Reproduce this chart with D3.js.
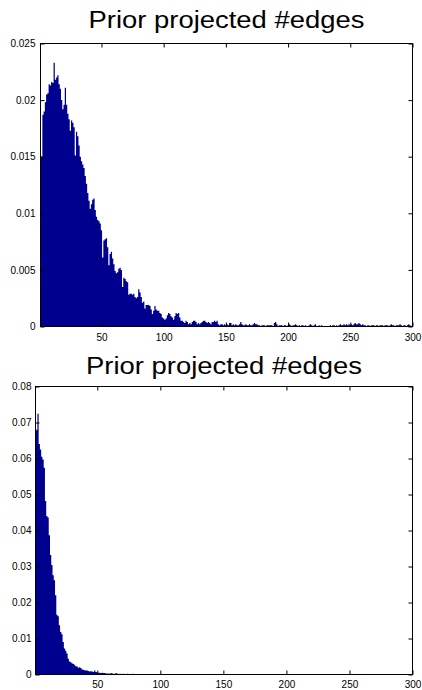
<!DOCTYPE html>
<html>
<head>
<meta charset="utf-8">
<script src="https://cdn.jsdelivr.net/npm/d3@7"></script>
<style>
  body { margin: 0; background: #fff; }
  svg { display: block; }
  text { font-family: "Liberation Sans", Arial, Helvetica, sans-serif; fill: #000; }
</style>
</head>
<body>
<svg id="fig" width="422" height="690"></svg>
<script>
// Histogram bin centres (one bin per edge count)
const binCenters = d3.range(1, 301);

// Relative frequency per bin, upper panel
const upperFreq = [
  0.0151, 0.0150, 0.0187, 0.0190, 0.0198, 0.0205, 0.0206, 0.0214, 0.0213, 0.0216,
  0.0215, 0.0233, 0.0218, 0.0220, 0.0222, 0.0214, 0.0210, 0.0200, 0.0192, 0.0196,
  0.0211, 0.0196, 0.0188, 0.0183, 0.0173, 0.0182, 0.0180, 0.0176, 0.0151, 0.0172,
  0.0168, 0.0160, 0.0150, 0.0146, 0.0143, 0.0140, 0.0133, 0.0126, 0.0118, 0.0111,
  0.0104, 0.0108, 0.0112, 0.0113, 0.0103, 0.0097, 0.0094, 0.0093, 0.0091, 0.0085,
  0.0061, 0.0076, 0.0077, 0.0078, 0.0070, 0.0054, 0.0064, 0.0066, 0.0060, 0.0055,
  0.0049, 0.0047, 0.0048, 0.0051, 0.0052, 0.0050, 0.0035, 0.0043, 0.0042, 0.0040,
  0.0039, 0.0028, 0.0029, 0.0029, 0.0028, 0.0029, 0.0026, 0.0025, 0.0026, 0.0033,
  0.0030, 0.0026, 0.0021, 0.0022, 0.0016, 0.0019, 0.0019, 0.0019, 0.0018, 0.0015,
  0.0011, 0.0014, 0.0018, 0.0015, 0.0014, 0.0014, 0.0012, 0.0011, 0.0008, 0.0007,
  0.0006, 0.0007, 0.0010, 0.0012, 0.0011, 0.0009, 0.0008, 0.0006, 0.0009, 0.0012,
  0.0011, 0.0012, 0.0008, 0.0005, 0.0005, 0.0004, 0.0003, 0.0005, 0.0004, 0.0002,
  0.0003, 0.0002, 0.0004, 0.0005, 0.0005, 0.0004, 0.0002, 0.0003, 0.0002, 0.0003,
  0.0004, 0.0005, 0.0005, 0.0004, 0.0003, 0.0004, 0.0003, 0.0002, 0.0004, 0.0004,
  0.0005, 0.0004, 0.0005, 0.0002, 0.0001, 0.0002, 0.0002, 0.0001, 0.0002, 0.0001,
  0.0002, 0.0001, 0.0003, 0.0003, 0.0001, 0.0002, 0.0001, 0.0002, 0.0001, 0.0001,
  0.0002, 0.0004, 0.0002, 0.0001, 0.0001, 0.0002, 0.0001, 0.0001, 0.0002, 0.0001,
  0.0001, 0.0002, 0.0003, 0.0002, 0.0002, 0.0001, 0.0001, 0,      0.0001, 0.0001,
  0.0001, 0,      0.0001, 0.0001, 0.0001, 0.0001, 0.0001, 0,      0.0003, 0.0004,
  0.0002, 0,      0.0001, 0.0001, 0.0001, 0,      0.0001, 0.0001, 0,      0.0001,
  0.0002, 0.0001, 0,      0.0001, 0.0001, 0.0002, 0.0001, 0,      0.0001, 0,
  0.0001, 0.0001, 0,      0.0001, 0,      0,      0.0001, 0.0002, 0.0001, 0,
  0.0001, 0.0002, 0,      0,      0.0001, 0,      0.0001, 0,      0,      0,
  0,      0,      0,      0.0001, 0,      0.0001, 0.0001, 0,      0.0001, 0,
  0.0001, 0.0002, 0.0001, 0.0001, 0.0002, 0.0001, 0.0002, 0.0001, 0.0002, 0.0001,
  0.0002, 0.0001, 0.0002, 0.0003, 0.0002, 0.0002, 0.0003, 0.0002, 0.0001, 0.0002,
  0.0001, 0.0001, 0,      0.0001, 0.0001, 0,      0.0001, 0.0001, 0.0001, 0,
  0.0001, 0.0001, 0,      0.0001, 0.0001, 0.0001, 0,      0.0001, 0.0001, 0.0001,
  0,      0.0001, 0.0002, 0.0001, 0.0001, 0,      0.0001, 0.0001, 0.0001, 0.0002,
  0.0001, 0,      0.0001, 0.0001, 0,      0.0001, 0.0002, 0.0001, 0,      0.0001
];

// Relative frequency per bin, lower panel
const lowerFreq = [
  0.0675, 0.0680, 0.0724, 0.0640, 0.0625, 0.0605, 0.0597, 0.0574, 0.0482, 0.0440,
  0.0436, 0.0387, 0.0332, 0.0304, 0.0276, 0.0262, 0.0220, 0.0166, 0.0162, 0.0137,
  0.0118, 0.0112, 0.0090, 0.0072, 0.0066, 0.0058, 0.0044, 0.0036, 0.0034, 0.0031,
  0.0029, 0.0027, 0.0023, 0.0022, 0.0019, 0.0020, 0.0018, 0.0014, 0.0013, 0.0012,
  0.0011, 0.0011, 0.0010, 0.0008, 0.0009, 0.0008, 0.0007, 0.0011, 0.0007, 0.0006,
  0.0005, 0.0005, 0.0004, 0.0005, 0.0004, 0.0004, 0.0003, 0.0003, 0.0003, 0.0002,
  0.0004, 0.0003, 0.0002, 0.0002, 0.0004, 0.0002, 0.0002, 0.0001, 0.0002, 0.0001,
  0.0002, 0.0001, 0.0001, 0.0002, 0.0001, 0.0001, 0.0001, 0.0002, 0.0001, 0,
  0.0001, 0.0001, 0.0001, 0,      0.0001, 0.0001, 0,      0.0001, 0.0001, 0,
  0.0001, 0,      0.0001, 0,      0,      0.0001, 0,      0,      0.0001, 0,
  0, 0, 0, 0, 0.0001, 0, 0, 0, 0, 0,   0, 0, 0, 0, 0, 0, 0, 0, 0, 0,
  0, 0, 0, 0, 0, 0, 0, 0, 0, 0,        0, 0, 0.0001, 0, 0, 0, 0, 0, 0, 0,
  0, 0, 0, 0, 0, 0, 0, 0, 0, 0,        0, 0, 0, 0, 0, 0, 0, 0, 0, 0,
  0, 0, 0, 0, 0, 0, 0, 0, 0, 0,        0, 0, 0, 0, 0, 0, 0, 0, 0, 0,
  0, 0, 0, 0, 0, 0, 0, 0, 0, 0,        0, 0, 0, 0, 0, 0, 0, 0, 0, 0,
  0, 0, 0, 0, 0, 0, 0, 0, 0, 0,        0, 0, 0, 0, 0, 0, 0, 0, 0, 0,
  0, 0, 0, 0, 0, 0, 0, 0, 0, 0,        0, 0, 0, 0, 0, 0, 0, 0, 0, 0,
  0, 0, 0, 0, 0, 0, 0, 0, 0, 0,        0, 0, 0, 0, 0, 0, 0, 0, 0, 0,
  0, 0, 0, 0, 0, 0, 0, 0, 0, 0,        0, 0, 0, 0, 0, 0, 0, 0, 0, 0,
  0, 0, 0, 0, 0, 0, 0, 0, 0, 0,        0, 0, 0, 0, 0, 0, 0, 0, 0, 0
];

// Axis ticks
const xTickValues = [50, 100, 150, 200, 250, 300];
const upperYTicks = [0, 0.005, 0.01, 0.015, 0.02, 0.025];
const lowerYTicks = [0, 0.01, 0.02, 0.03, 0.04, 0.05, 0.06, 0.07, 0.08];
const xDomain = [1, 300];
const titleText = "Prior projected #edges";

const barColor = "#00008f";
const svg = d3.select("#fig");

function drawPanel(opt) {
  const { id, box, values, yMax, yTicks, titleY, xPad, yPad } = opt;
  const x = d3.scaleLinear().domain(xDomain).range([box.left, box.right]);
  const y = d3.scaleLinear().domain([0, yMax]).range([box.bottom, box.top]);

  const g = svg.append("g").attr("class", "panel-" + id);

  g.append("clipPath").attr("id", "clip-" + id)
    .append("rect")
    .attr("x", box.left).attr("y", box.top)
    .attr("width", box.right - box.left).attr("height", box.bottom - box.top);

  // each bin spans [c - 0.5, c + 0.5]; the bars are drawn as one stepped outline
  const steps = binCenters.map((c, i) => ({ x0: c - 0.5, v: values[i] }));
  steps.push({ x0: binCenters[binCenters.length - 1] + 0.5, v: values[values.length - 1] });

  const bars = d3.area()
    .curve(d3.curveStepAfter)
    .x(d => x(d.x0))
    .y0(y(0))
    .y1(d => y(d.v));

  g.append("path")
    .attr("clip-path", "url(#clip-" + id + ")")
    .attr("d", bars(steps))
    .attr("fill", barColor);

  const styleAxis = sel => {
    sel.select(".domain").remove();
    sel.selectAll("line").attr("stroke", "#000").attr("stroke-width", 1);
    sel.selectAll("text").attr("font-size", 10).attr("fill", "#000");
  };

  g.append("g").attr("transform", `translate(0,${box.bottom})`)
    .call(d3.axisBottom(x).tickValues(xTickValues).tickSize(-4).tickPadding(xPad).tickFormat(d3.format("d")))
    .call(styleAxis);
  g.append("g").attr("transform", `translate(0,${box.top})`)
    .call(d3.axisTop(x).tickValues(xTickValues).tickSize(-4).tickFormat(""))
    .call(styleAxis);
  g.append("g").attr("transform", `translate(${box.left},0)`)
    .call(d3.axisLeft(y).tickValues(yTicks).tickSize(-4).tickPadding(yPad).tickFormat(d => String(d)))
    .call(styleAxis);
  g.append("g").attr("transform", `translate(${box.right},0)`)
    .call(d3.axisRight(y).tickValues(yTicks).tickSize(-4).tickFormat(""))
    .call(styleAxis);

  g.append("rect")
    .attr("x", box.left).attr("y", box.top)
    .attr("width", box.right - box.left).attr("height", box.bottom - box.top)
    .attr("fill", "none").attr("stroke", "#000").attr("stroke-width", 1);

  g.append("text")
    .attr("x", (box.left + box.right) / 2)
    .attr("y", titleY)
    .attr("text-anchor", "middle")
    .attr("font-size", 23)
    .attr("textLength", 276)
    .attr("lengthAdjust", "spacingAndGlyphs")
    .text(titleText);
}

drawPanel({
  id: "upper",
  box: { left: 40.5, right: 412.5, top: 43.5, bottom: 326.5 },
  values: upperFreq, yMax: 0.025, yTicks: upperYTicks,
  titleY: 28, xPad: 7, yPad: 5
});

drawPanel({
  id: "lower",
  box: { left: 35.5, right: 412.5, top: 386.5, bottom: 674.5 },
  values: lowerFreq, yMax: 0.08, yTicks: lowerYTicks,
  titleY: 374, xPad: 6, yPad: 4
});
</script>
</body>
</html>
